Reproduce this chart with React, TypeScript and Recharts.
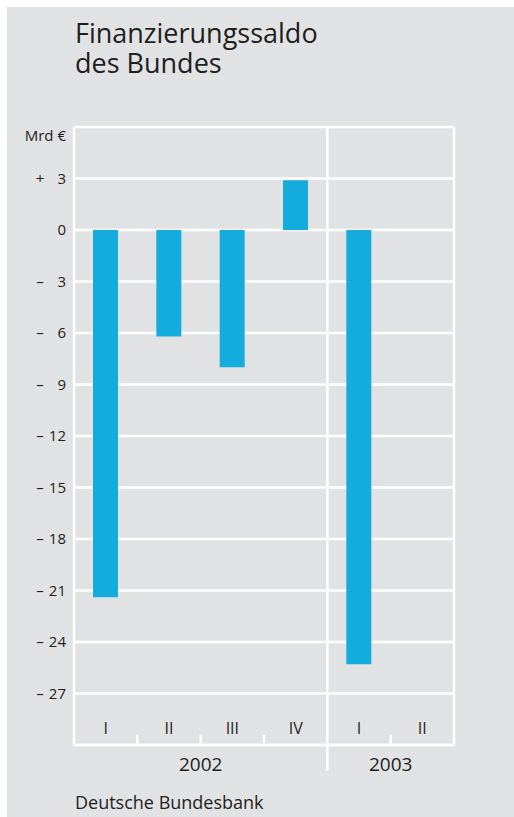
import React from "react";
import {
	Bar,
	BarChart,
	CartesianGrid,
	ReferenceLine,
	XAxis,
	YAxis,
} from "recharts";

// quarters and their years, 2002 I .. 2003 II
const quarters = ["I", "II", "III", "IV", "I", "II"];
const years = ["2002", "2002", "2002", "2002", "2003", "2003"];
// Finanzierungssaldo, Mrd €
const saldo: (number | null)[] = [-21.4, -6.2, -8.0, 2.9, -25.3, null];

const yTicks = [-30, -27, -24, -21, -18, -15, -12, -9, -6, -3, 0, 3, 6];
const yearLabels = ["2002", "2003"];
const yearTicks = [2, 5];
const yearBreaks = [4];
const quarterBreaks = [1, 2, 3, 5];

const data = quarters.map((q, i) => ({
	pos: i + 0.5,
	quarter: q,
	year: years[i],
	saldo: saldo[i],
}));

const BG = "#e1e2e4";
const BLUE = "#14acdc";
const TEXT = "#1e1e1c";
const FONT = "'Open Sans', 'Noto Sans', sans-serif";

const YTick = (props: any) => {
	const { y, payload } = props;
	const v = payload.value as number;
	if (v === -30) return null;
	if (v === 6)
		return (
			<text x={59} y={y + 14} textAnchor="end" fontSize={15} fill={TEXT} fontFamily={FONT}>
				Mrd €
			</text>
		);
	const sign = v > 0 ? "+" : v < 0 ? "–" : "";
	return (
		<g fontFamily={FONT} fontSize={15} fill={TEXT}>
			{sign && (
				<text x={33} y={y + 5} textAnchor="middle">
					{sign}
				</text>
			)}
			<text x={59} y={y + 5} textAnchor="end">
				{Math.abs(v)}
			</text>
		</g>
	);
};

const QuarterTick = (props: any) => {
	const { x, y, payload } = props;
	const q = quarters[Math.floor(payload.value)];
	return (
		<text x={x} y={y - 11} textAnchor="middle" fontSize={16} fill={TEXT} fontFamily={FONT}>
			{q}
		</text>
	);
};

const YearTick = (props: any) => {
	const { x, y, payload, index } = props;
	return (
		<text x={x} y={y + 25} textAnchor="middle" fontSize={19} fill={TEXT} fontFamily={FONT}>
			{yearLabels[index] ?? payload.value}
		</text>
	);
};

export default function App() {
	const titleLine: React.CSSProperties = {
		position: "absolute",
		left: 68,
		fontSize: 27,
		lineHeight: "26px",
		whiteSpace: "nowrap",
	};
	return (
		<div
			style={{
				position: "absolute",
				left: 7,
				top: 7,
				width: 507,
				height: 810,
				background: BG,
				fontFamily: FONT,
				color: TEXT,
			}}
		>
			<div style={{ ...titleLine, top: 13 }}>Finanzierungssaldo</div>
			<div style={{ ...titleLine, top: 42.5 }}>des Bundes</div>
			<div style={{ position: "absolute", left: 0, top: 0 }}>
				<BarChart
					width={507}
					height={800}
					data={data}
					margin={{ top: 120, right: 60, left: 0, bottom: 31 }}
				>
					<CartesianGrid vertical={false} stroke="#fff" strokeWidth={2.5} />
					<XAxis
						dataKey="pos"
						type="number"
						domain={[0, 6]}
						ticks={data.map((d) => d.pos)}
						interval={0}
						height={1}
						tickSize={0}
						tickMargin={0}
						axisLine={{ stroke: "#fff", strokeWidth: 2.5 }}
						tick={<QuarterTick />}
					/>
					<XAxis
						xAxisId="year"
						dataKey="pos"
						type="number"
						domain={[0, 6]}
						ticks={yearTicks}
						interval={0}
						height={30}
						tickSize={0}
						tickMargin={0}
						axisLine={false}
						tick={<YearTick />}
					/>
					<YAxis
						type="number"
						domain={[-30, 6]}
						ticks={yTicks}
						interval={0}
						width={67}
						tickLine={false}
						axisLine={false}
						tick={<YTick />}
					/>
					<ReferenceLine x={0} stroke="#fff" strokeWidth={2.5} />
					<ReferenceLine x={6} stroke="#fff" strokeWidth={2.5} />
					{yearBreaks.map((b) => (
						<ReferenceLine
							key={`y${b}`}
							segment={[
								{ x: b, y: 6 },
								{ x: b, y: -31.5 },
							]}
							ifOverflow="visible"
							stroke="#fff"
							strokeWidth={2.5}
						/>
					))}
					{quarterBreaks.map((b) => (
						<ReferenceLine
							key={`q${b}`}
							segment={[
								{ x: b, y: -30 },
								{ x: b, y: -29.4 },
							]}
							ifOverflow="visible"
							stroke="#fff"
							strokeWidth={2.5}
						/>
					))}
					<Bar dataKey="saldo" fill={BLUE} barSize={25} isAnimationActive={false} />
				</BarChart>
			</div>
			<div
				style={{
					position: "absolute",
					left: 68,
					top: 783,
					fontSize: 18,
				}}
			>
				Deutsche Bundesbank
			</div>
		</div>
	);
}
